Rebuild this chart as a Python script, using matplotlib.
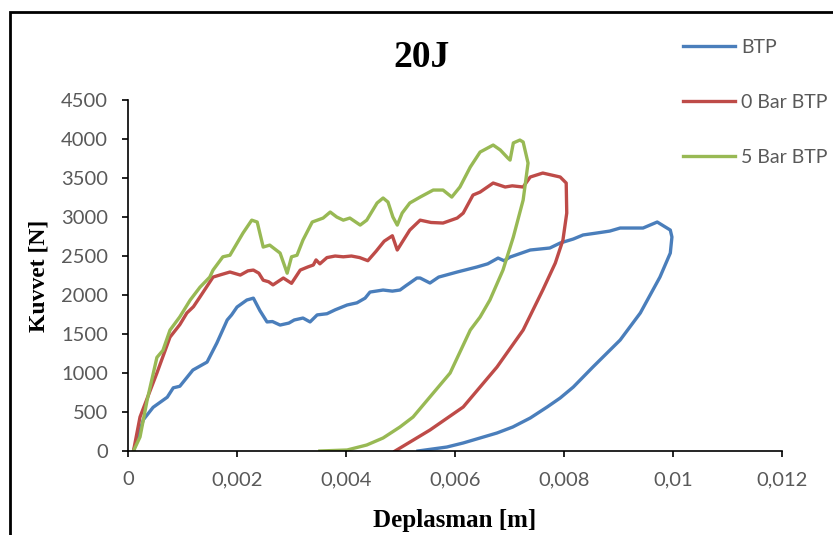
import matplotlib.pyplot as plt
from matplotlib.patches import Rectangle

# displacement [m] / force [N] (loading then unloading)
btp_x = [0.0001, 0.00028, 0.00046, 0.00072, 0.00083, 0.00095, 0.00119, 0.00145, 0.00163,
         0.00182, 0.0019, 0.002, 0.00218, 0.0023, 0.00242, 0.00255, 0.00265, 0.00279,
         0.00295, 0.00305, 0.00321, 0.00334, 0.00347, 0.00365, 0.0038, 0.00402, 0.0042,
         0.00435, 0.00444, 0.00468, 0.00485, 0.00499, 0.0051, 0.00517, 0.0053, 0.00536,
         0.00554, 0.0057, 0.00604, 0.0064, 0.0066, 0.00679, 0.0069, 0.00701, 0.00738,
         0.00774, 0.00793, 0.00817, 0.00835, 0.0086, 0.00884, 0.00903, 0.00945, 0.00971,
         0.00995, 0.00998, 0.00995, 0.00976, 0.0094, 0.00903, 0.00853, 0.00817, 0.00793,
         0.00769, 0.00738, 0.00706, 0.00677, 0.00615, 0.00585, 0.00532]
btp_y = [0, 400, 560, 690, 810, 830, 1038, 1140, 1385,
         1680, 1745, 1846, 1936, 1960, 1800, 1655, 1660, 1615,
         1640, 1680, 1705, 1655, 1745, 1760, 1810, 1872, 1900,
         1960, 2038, 2064, 2050, 2064, 2120, 2154, 2218, 2218,
         2154, 2230, 2295, 2359, 2400, 2474, 2440, 2487, 2577,
         2603, 2667, 2718, 2770, 2795, 2820, 2859, 2859, 2936,
         2833, 2744, 2538, 2230, 1770, 1423, 1077, 820, 680,
         564, 423, 308, 231, 103, 51, 0]

bar0_x = [0.0001, 0.00022, 0.00053, 0.00077, 0.00095, 0.00108, 0.0012, 0.00132, 0.00156,
          0.0017, 0.00187, 0.00206, 0.0022, 0.0023, 0.0024, 0.00248, 0.00258, 0.00266,
          0.00285, 0.003, 0.00316, 0.0033, 0.0034, 0.00345, 0.00352, 0.00365, 0.0038,
          0.00395, 0.0041, 0.00425, 0.0044, 0.00455, 0.0047, 0.00485, 0.00494, 0.00505,
          0.00517, 0.00536, 0.00556, 0.00578, 0.00604, 0.00615, 0.00633, 0.00646, 0.0067,
          0.00692, 0.00705, 0.00725, 0.00738, 0.00761, 0.00793, 0.00804, 0.00805, 0.00798,
          0.00784, 0.00761, 0.00725, 0.00677, 0.00615, 0.00554, 0.0049]
bar0_y = [0, 436, 1000, 1460, 1620, 1770, 1850, 1975, 2230,
          2260, 2295, 2256, 2310, 2320, 2280, 2190, 2170, 2130,
          2218, 2150, 2320, 2360, 2385, 2450, 2400, 2480, 2500,
          2490, 2500, 2480, 2440, 2560, 2690, 2760, 2577, 2700,
          2833, 2960, 2930, 2923, 2987, 3050, 3282, 3320, 3436,
          3385, 3400, 3385, 3513, 3564, 3513, 3436, 3051, 2705,
          2410, 2064, 1551, 1077, 564, 269, 0]

bar5_x = [0.0001, 0.00022, 0.00035, 0.00053, 0.00064, 0.00077, 0.00095, 0.00114, 0.00132,
          0.0015, 0.00156, 0.00174, 0.00187, 0.00211, 0.00227, 0.00237, 0.00248, 0.0026,
          0.00279, 0.00292, 0.003, 0.0031, 0.00321, 0.00338, 0.00358, 0.00371, 0.00383,
          0.00395, 0.00407, 0.00426, 0.00438, 0.00457, 0.00468, 0.00477, 0.00486, 0.00494,
          0.00503, 0.00517, 0.00536, 0.0056, 0.00578, 0.00594, 0.00609, 0.00628, 0.00646,
          0.0067, 0.00683, 0.00697, 0.00701, 0.00707, 0.00719, 0.00725, 0.00734, 0.00725,
          0.00707, 0.00688, 0.00664, 0.00646, 0.00628, 0.00591, 0.00523, 0.00499, 0.00468,
          0.00438, 0.00402, 0.00352]
bar5_y = [0, 180, 650, 1200, 1290, 1550, 1720, 1935, 2100,
          2230, 2320, 2490, 2510, 2795, 2960, 2936, 2615, 2640,
          2538, 2280, 2490, 2510, 2705, 2936, 2987, 3064, 3000,
          2960, 2987, 2897, 2960, 3180, 3244, 3192, 3000, 2897,
          3051, 3180, 3256, 3346, 3346, 3256, 3385, 3641, 3833,
          3923, 3860, 3756, 3730, 3950, 3987, 3962, 3692, 3218,
          2744, 2320, 1936, 1718, 1551, 1000, 436, 308, 167,
          77, 13, 0]

series_names = ['BTP', '0 Bar BTP', '5 Bar BTP']
x_ticks = [0, 0.002, 0.004, 0.006, 0.008, 0.01, 0.012]
x_tick_labels = ['0', '0,002', '0,004', '0,006', '0,008', '0,01', '0,012']
y_ticks = [0, 500, 1000, 1500, 2000, 2500, 3000, 3500, 4000, 4500]

colors = ['#4A7EBB', '#BE4B48', '#98B954']
gray = '#595959'

fig = plt.figure(figsize=(8.33, 5.35), dpi=100)
ax = fig.add_axes([0.1537, 0.157, 0.7851, 0.656])

for xs, ys, name, c in zip([btp_x, bar0_x, bar5_x], [btp_y, bar0_y, bar5_y], series_names, colors):
    ax.plot(xs, ys, color=c, lw=2.4, label=name, solid_joinstyle='round')

ax.set_xlim(0, 0.012)
ax.set_ylim(0, 4500)
ax.set_xticks(x_ticks)
ax.set_xticklabels(x_tick_labels)
ax.set_yticks(y_ticks)
for s in ['top', 'right']:
    ax.spines[s].set_visible(False)
for s in ['left', 'bottom']:
    ax.spines[s].set_linewidth(1.2)
    ax.spines[s].set_color('black')
ax.tick_params(direction='out', length=4.5, width=1.2, colors='black',
               labelcolor=gray, labelsize=14.5)
ax.tick_params(axis='x', pad=10)
ax.tick_params(axis='y', pad=10)
for lab in ax.get_xticklabels() + ax.get_yticklabels():
    lab.set_fontfamily('Lato')

ax.set_xlabel('Deplasman [m]', family='Liberation Serif', weight='bold', fontsize=18, labelpad=15)
ax.set_ylabel('Kuvvet [N]', family='Liberation Serif', weight='bold', fontsize=17, labelpad=8)
fig.text(0.506, 0.893, '20J', family='Liberation Serif', weight='bold', fontsize=27,
         ha='center', va='center')

leg = fig.legend(loc='upper left', bbox_to_anchor=(0.808, 0.945), frameon=False,
                 prop={'family': 'Lato', 'size': 14}, labelspacing=1.95,
                 handlelength=2.7, handletextpad=0.3, borderpad=0)
for t in leg.get_texts():
    t.set_color(gray)

# outer chart border
fig.patches.append(Rectangle((10 / 833, -0.05), 1.1, 1 - 12 / 535 + 0.05,
                             transform=fig.transFigure, fill=False, lw=2, ec='black'))

fig.savefig('out.png', dpi=100)
